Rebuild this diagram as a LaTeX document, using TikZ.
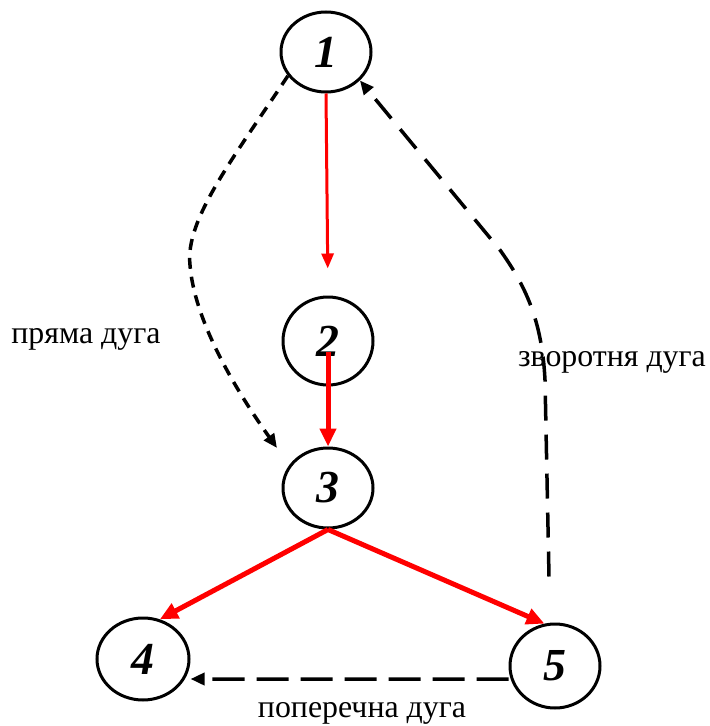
\documentclass[tikz,border=0pt]{standalone}
\usepackage{fontspec}
\setmainfont{Liberation Serif}
\usetikzlibrary{shapes.geometric,arrows.meta}
\tikzset{
  vert/.style={draw=black,line width=3bp,ellipse,inner sep=0pt,font=\fontsize{46}{46}\selectfont\bfseries\itshape},
  tree/.style={draw=red,line width=5bp,-{Triangle[length=18bp,width=16bp]}},
  thintree/.style={draw=red,line width=3bp,-{Triangle[length=15bp,width=12bp]}},
  nontree/.style={draw=black,line width=3.5bp,-{Triangle[length=14bp,width=12bp]}},
  lbl/.style={font=\fontsize{32}{32}\selectfont,inner sep=0pt}
}
\begin{document}
\begin{tikzpicture}[x=1bp,y=-1bp]
\useasboundingbox (0,0) rectangle (710,726);
\node[vert,minimum width=90bp,minimum height=80bp] (n1) at (326,52) {1};
\node[vert,minimum width=90bp,minimum height=88bp] (n2) at (328,341) {2};
\node[vert,minimum width=90bp,minimum height=80bp] (n3) at (328,488) {3};
\node[vert,minimum width=92bp,minimum height=82bp] (n4) at (143,659) {4};
\node[vert,minimum width=90bp,minimum height=84bp] (n5) at (555,666) {5};
\node[lbl] (l1) at (86,339) {пряма дуга};
\node[lbl] (l2) at (612,362) {зворотня дуга};
\node[lbl] (l3) at (362,713) {поперечна дуга};
% tree arcs
\draw[thintree,shorten >=27bp] (n1.south) -- (n2.north);
\draw[tree] ([yshift=-11bp]n2.center) -- (n3.north);
\draw[tree] (n3.south) -- (n4.67);
\draw[tree] (n3.south) -- (n5.104);
% forward arc
\draw[nontree,dash pattern=on 11bp off 8bp] (n1.212) .. controls (232,160) and (185,220) .. (190,265) .. controls (195,330) and (250,410) .. ([shift={(-51bp,40bp)}]n3.center);
% back arc
\draw[nontree,dash pattern=on 25bp off 14bp] ([shift={(-6bp,46bp)}]n5.north) -- (545,380) .. controls (542,320) and (525,285) .. (500,250) -- (n1.-40);
% cross arc
\draw[nontree,dash pattern=on 32bp off 12bp] ([yshift=-13bp]n5.west) -- ([yshift=-20bp]n4.east);
\end{tikzpicture}
\end{document}
